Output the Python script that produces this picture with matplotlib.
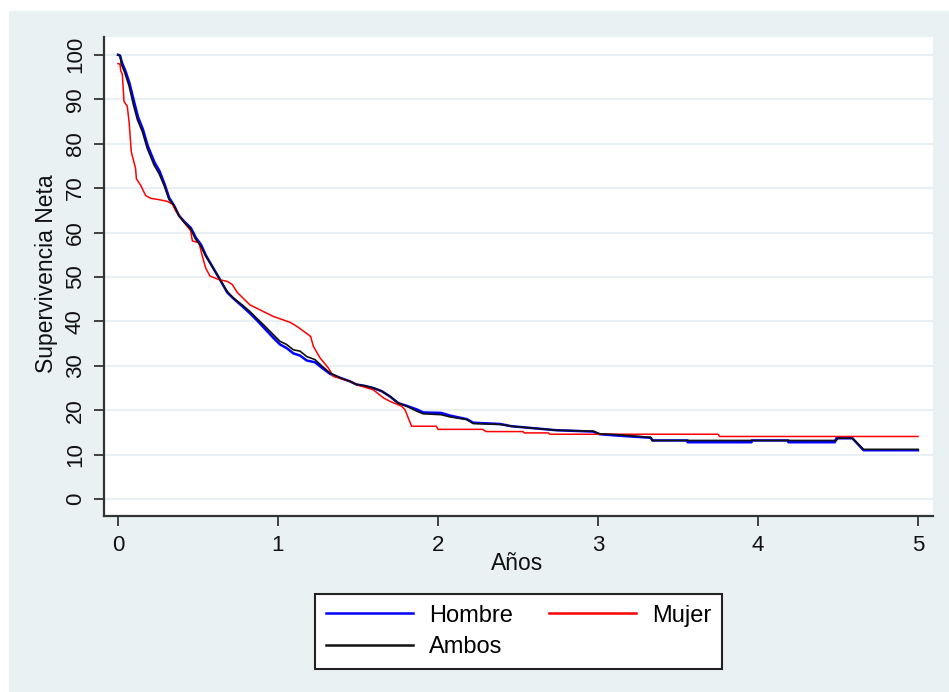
import matplotlib
matplotlib.use("Agg")
import matplotlib.pyplot as plt
from matplotlib.patches import Rectangle

plt.rcParams['font.family'] = ['Liberation Sans', 'DejaVu Sans']

# Supervivencia neta (%) por sexo
hombre_t = [0, 0.013, 0.025, 0.045, 0.072, 0.1, 0.125, 0.155, 0.186, 0.228, 0.26, 0.29,
            0.32, 0.35, 0.381, 0.413, 0.456, 0.487, 0.52, 0.55, 0.6, 0.631, 0.683, 0.72,
            0.78, 0.825, 0.867, 0.919, 0.971, 1.013, 1.054, 1.096, 1.138, 1.179, 1.231,
            1.273, 1.325, 1.388, 1.45, 1.49, 1.54, 1.596, 1.648, 1.7, 1.752, 1.804, 1.867,
            1.908, 2.02, 2.075, 2.18, 2.22, 2.39, 2.46, 2.74, 2.97, 3.01, 3.12, 3.33, 3.34,
            3.56, 3.56, 3.96, 3.96, 4.19, 4.19, 4.48, 4.49, 4.59, 4.66, 5.0]
hombre_s = [100, 99.8, 98.2, 96.5, 93.6, 89.5, 86.0, 83.3, 79.5, 75.8, 73.8, 71.0,
            67.8, 66.1, 63.8, 62.5, 61.0, 58.8, 57.2, 54.8, 51.7, 49.8, 46.5, 45.2,
            43.3, 41.8, 40.3, 38.3, 36.3, 34.8, 34.0, 32.8, 32.3, 31.2, 30.8,
            29.6, 28.2, 27.3, 26.5, 25.8, 25.5, 25.0, 24.3, 23.1, 21.6, 21.0, 20.2,
            19.5, 19.4, 18.8, 18.0, 17.2, 16.9, 16.4, 15.5, 15.2, 14.6, 14.3, 13.8, 13.2,
            13.2, 12.8, 12.8, 13.2, 13.2, 12.8, 12.8, 13.7, 13.7, 11.0, 11.0]

mujer_t = [0, 0.0125, 0.017, 0.027, 0.0375, 0.058, 0.069, 0.083, 0.11, 0.115, 0.142,
           0.173, 0.204, 0.256, 0.308, 0.34, 0.36, 0.4125, 0.454, 0.465, 0.506, 0.527,
           0.548, 0.575, 0.631, 0.683, 0.714, 0.746, 0.825, 0.8875, 0.971, 1.075, 1.117,
           1.19, 1.204, 1.221, 1.2625, 1.315, 1.346, 1.377, 1.45, 1.5125, 1.596, 1.658,
           1.7, 1.773, 1.794, 1.835, 1.99, 2.0, 2.28, 2.30, 2.53, 2.54, 2.69, 2.70, 3.75,
           3.76, 5.0]
mujer_s = [98.0, 97.9, 96.4, 95.6, 89.5, 88.4, 85.0, 78.2, 74.4, 72.1, 70.6,
           68.3, 67.7, 67.4, 67.0, 66.4, 64.9, 62.3, 60.4, 58.1, 57.7, 54.7,
           52.0, 50.2, 49.4, 49.0, 48.3, 46.5, 43.7, 42.6, 41.1, 39.8, 38.9,
           37.0, 36.6, 34.4, 31.8, 29.5, 27.6, 27.3, 26.5, 25.5, 24.6, 22.8,
           22.0, 20.9, 20.1, 16.4, 16.4, 15.7, 15.7, 15.2, 15.2, 14.9, 14.9, 14.6, 14.6,
           14.1, 14.1]

ambos_t = [0, 0.013, 0.021, 0.042, 0.069, 0.096, 0.121, 0.152, 0.183, 0.225, 0.256, 0.288,
           0.319, 0.35, 0.381, 0.413, 0.454, 0.485, 0.517, 0.548, 0.6, 0.631, 0.683, 0.72,
           0.78, 0.825, 0.867, 0.919, 0.971, 1.013, 1.054, 1.096, 1.138, 1.179, 1.231,
           1.273, 1.325, 1.388, 1.45, 1.49, 1.54, 1.596, 1.648, 1.7, 1.752, 1.804, 1.867,
           1.908, 2.02, 2.075, 2.18, 2.22, 2.39, 2.46, 2.74, 2.97, 3.01, 3.12, 3.33, 3.34,
           4.49, 4.5, 4.59, 4.66, 5.0]
ambos_s = [100, 99.8, 97.9, 96.0, 93.0, 88.8, 85.4, 82.7, 78.9, 75.2, 73.3, 70.6,
           67.4, 66.1, 63.8, 62.3, 60.8, 58.5, 57.0, 54.7, 51.7, 49.8, 46.7, 45.3,
           43.6, 42.2, 40.7, 38.9, 37.0, 35.5, 34.8, 33.6, 33.3, 32.1, 31.4,
           30.0, 28.4, 27.3, 26.5, 25.8, 25.5, 25.0, 24.3, 23.1, 21.6, 20.9, 19.8,
           19.2, 19.0, 18.5, 17.9, 17.0, 16.8, 16.4, 15.5, 15.3, 14.7, 14.5, 13.9, 13.2,
           13.2, 13.7, 13.7, 11.2, 11.2]

x_ticks = [0, 1, 2, 3, 4, 5]
y_ticks = [0, 10, 20, 30, 40, 50, 60, 70, 80, 90, 100]

bg = '#EAF1F3'
axcol = '#333333'

fig = plt.figure(figsize=(9.49, 6.92), dpi=100, facecolor='white')
fig.patches.append(Rectangle((9 / 949, 0), 1, 1 - 11 / 692, transform=fig.transFigure,
                             facecolor=bg, edgecolor='none', zorder=-10))

ax = fig.add_axes([104 / 949, 176 / 692, 829 / 949, 479 / 692])
ax.set_facecolor('white')

l1, = ax.plot(hombre_t, hombre_s, color='#0000FF', lw=1.8, label='Hombre')
l2, = ax.plot(mujer_t, mujer_s, color='#FF0000', lw=1.1, label='Mujer')
l3, = ax.plot(ambos_t, ambos_s, color='#111111', lw=1.2, label='Ambos')

ax.set_xlim(-0.0875, 5.094)
ax.set_ylim(-3.8, 104.0)
ax.set_xticks(x_ticks)
ax.set_yticks(y_ticks)
ax.set_yticklabels([str(v) for v in y_ticks], rotation=90, va='center')

ax.grid(axis='y', color='#E8F0F3', lw=1.5)
ax.set_axisbelow(True)
for side in ['top', 'right']:
    ax.spines[side].set_visible(False)
for side in ['left', 'bottom']:
    ax.spines[side].set_color(axcol)
    ax.spines[side].set_linewidth(1.6)

ax.tick_params(axis='both', direction='out', length=7, width=1.3, color=axcol,
               labelsize=16, labelcolor='#111111')
ax.tick_params(axis='x', pad=7)
ax.tick_params(axis='y', pad=6)

ax.text(0.498, -0.1, 'Años', transform=ax.transAxes, ha='center', va='center',
        fontsize=16.5, color='#111111')
fig.text(47 / 949, 1 - 274 / 692, 'Supervivencia Neta', rotation=90, ha='center',
         va='center', fontsize=16.5, color='#111111')

leg = fig.legend([l1, l3, l2], ['Hombre', 'Ambos', 'Mujer'], ncol=2, loc='center',
                 bbox_to_anchor=(518.5 / 949, 1 - 631.5 / 692), fontsize=17,
                 frameon=True, fancybox=False, framealpha=1, facecolor='white',
                 handlelength=3.7, handletextpad=0.65, columnspacing=1.55,
                 labelspacing=0.42, borderpad=0.45)
leg.get_frame().set_edgecolor('#222222')
leg.get_frame().set_linewidth(1.5)
for h in leg.get_lines():
    h.set_linewidth(1.8)

plt.savefig('out.png', dpi=100)
